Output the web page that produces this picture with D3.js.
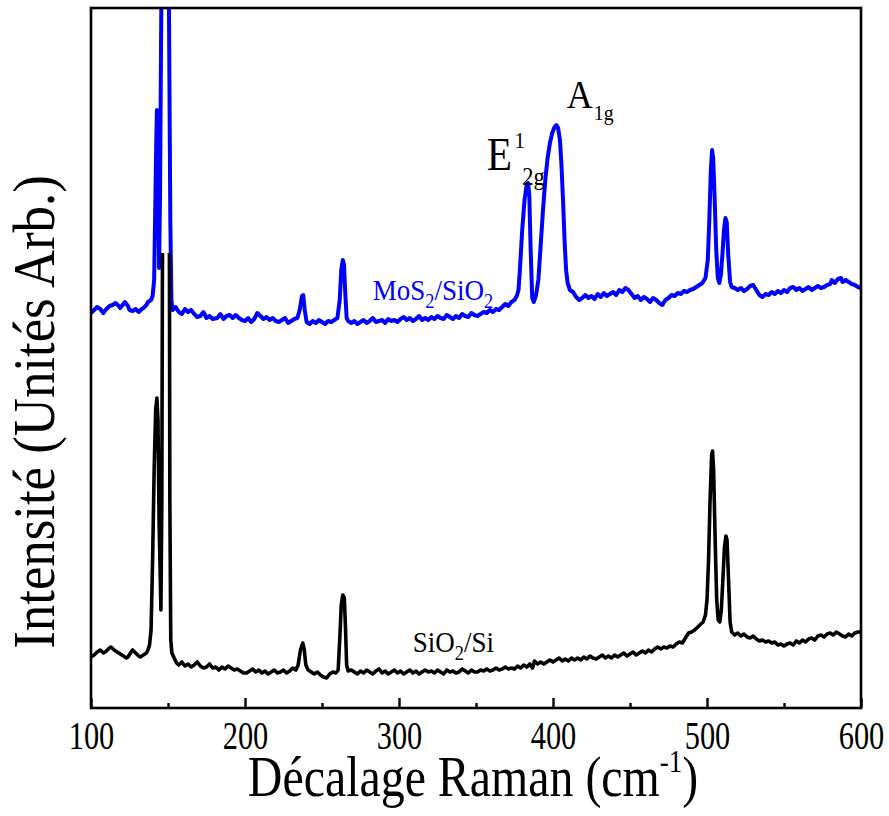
<!DOCTYPE html>
<html><head><meta charset="utf-8">
<script src="https://cdn.jsdelivr.net/npm/d3@7"></script>
<style>body{margin:0;background:#fff}text{font-family:"Liberation Serif","Times New Roman",serif}</style>
</head><body><svg id="c" width="889" height="816"></svg>
<script>
const xTickValues=[100,200,300,400,500,600];
const xMinorTicks=[150,250,350,450,550];
const xDomain=[100,600];
const yDomain=[0,700];
const blackClipTop=455;

const blueShift=[100,102,104,106,108,110,112,114,116,118,119,121,122,124,125,127,129,131,133,134,136,137,139,140,141,141.8,142.4,142.8,143.3,143.7,144.2,144.8,145.5,146.5,148.5,150.2,150.8,151.5,152.2,153,155,157,159,161,163,165,167,169,171,173,175,177,179,182,184,186,188,190,192,194,196,198,200,202,204,206,208,210,212,214,216,218,220,222,224,226,228,230,232,234,235.5,237,237.8,238.8,240,242,244,246,248,250,252,254,256,258,260,261.5,262.5,263.5,264.3,265,266,267,269,271,273,275,277,279,281,283,285,287,289,291,293,295,297,299,301,303,305,307,309,311,313,315,317,319,321,323,325,327,329,331,333,335,337,339,341,343,345,347,349,351,353,355,357,359,361,363,365,367,369,371,373,375,376.5,377.6,378.5,380,381.5,383,383.8,384.6,385.5,386.5,387.5,389,390.5,392,393.5,395,396.5,398,399.5,401,402.2,403.3,404.5,405.5,406.5,407.5,408.5,409.5,411,413,415,417,419,421,423,425,427,429,431,433,435,437,439,441,443,445,447,449,451,453,455,457,459,461,463,465,467,469,471,473,475,477,479,481,483,485,487,489,491,493,495,497,499,500.5,501.5,502.5,503.3,504,505,506,507,508,509,510,511,512,512.8,513.8,515,516,518,520,522,524,526,528,530,532,534,536,538,540,542,544,546,548,550,552,554,556,558,560,562,564,566,568,570,572,574,576,578,580,581,583,585,587,588,590,592,594,596,598,600];
const blueIntensity=[395,398,401,399,395,399,402,403,405,402,400,404,406,402,398,397,399,396,399,400,403,406,408,412,428,508,568,598,590,528,440,508,668,858,908,808,658,488,408,398,401,396,394,399,396,398,394,391,392,396,390,392,389,390,394,389,392,393,390,393,390,388,387,390,386,389,395,392,389,391,388,390,387,386,388,390,385,387,389,390,398,412,413,398,386,384,387,385,388,386,384,387,386,388,390,408,438,448,443,418,390,387,385,387,384,386,388,385,387,390,386,387,388,385,389,387,388,386,389,391,388,390,387,389,392,388,390,388,391,389,392,390,389,393,391,389,392,390,394,392,391,395,393,392,394,396,395,398,396,399,398,401,404,402,406,408,412,418,438,478,508,524,525,513,458,410,406,413,428,463,498,528,550,565,575,581,583,580,568,543,508,468,438,425,418,416,411,408,410,413,410,412,409,414,411,415,412,414,416,413,418,416,420,418,414,410,412,408,411,409,406,410,408,405,403,408,410,413,412,415,414,417,416,418,419,421,423,425,430,448,488,538,558,550,508,458,430,425,433,453,478,490,486,453,426,421,420,418,420,417,419,422,423,418,413,411,414,413,416,414,417,415,418,416,420,421,418,420,417,419,421,418,420,422,420,421,423,424,428,425,429,430,426,428,426,424,423,421,420];

const blackShift=[100,102,104,106,108,110,112,113,115,117,119,121,123,124,126,127,129,131,132,134,136,137,138,139,140,141,142,142.8,143.5,144.2,145.4,146,146.5,149,150.8,151.2,151.8,152.5,154,155.6,157,159,161,163,165,167,169,171,173,175,177,179,181,183,185,187,189,191,193,195,197,199,201,203,205,207,209,211,213,215,217,219,221,223,225,227,229,231,233,234.5,236,237.5,238.5,239.5,241,243,245,247,249,251,253,255,257,259,260.5,261.5,262.5,263.5,264.5,265.3,266,267,269,271,273,275,277,279,281,283,285,287,289,291,293,295,297,299,301,303,305,307,309,311,313,315,317,319,321,323,325,327,329,331,333,335,337,339,341,343,345,347,349,351,353,355,357,359,361,363,365,367,369,371,373,375,377,379,381,383,385,386.7,388,390,392,394,396,398,400,402,404,406,408,410,412,414,416,418,420,422,424,426,428,430,432,434,436,438,440,442,444,446,448,450,452,454,456,458,460,462,464,466,468,470,472,474,476,478,480,482,484,486,488,490,492,494,496,497.5,499,500,501,502,503,503.6,504.3,505.3,506.3,507.3,508.3,509.3,510.3,511.3,512.3,513,514,515,516,518,520,522,524,526,528,530,532,534,536,538,540,542,544,546,548,550,552,554,556,558,560,562,564,566,568,570,572,574,576,578,580,582,584,586,588,590,592,594,596,598,600];
const blackIntensity=[51,53,56,58,55,57,60,61,58,56,54,52,50,51,56,58,55,52,51,53,55,58,63,78,148,238,298,310,288,188,98,208,508,608,558,208,68,55,50,45,43,46,42,44,41,43,46,42,40,41,44,40,41,38,41,39,42,40,38,39,37,35,35,37,39,36,38,35,37,34,36,38,35,36,38,35,37,40,38,43,58,65,58,43,38,36,34,36,33,31,30,34,36,35,38,68,103,113,110,78,43,37,38,36,34,37,35,38,36,34,37,39,35,37,34,36,38,35,37,34,36,38,35,37,34,36,38,36,37,35,38,36,34,38,36,37,35,36,39,37,35,38,36,36,38,37,39,37,38,40,38,39,41,39,40,39,42,40,43,41,44,40,47,44,46,44,46,48,46,48,50,47,49,47,50,48,50,48,51,49,52,50,49,51,53,50,52,50,53,51,53,55,52,54,56,53,55,57,55,58,56,59,61,59,61,60,62,61,64,66,65,70,75,76,78,81,84,86,93,108,148,208,253,257,238,168,108,88,86,98,128,160,172,168,128,86,76,73,75,72,74,71,70,72,69,67,68,66,67,65,66,63,64,62,64,65,63,67,65,68,66,69,70,68,72,73,71,74,75,73,76,74,72,71,74,72,75,76,76];

const svg=d3.select("#c");
const m={l:91,r:861,t:8,b:708};
const x=d3.scaleLinear().domain(xDomain).range([m.l,m.r]);
const y=d3.scaleLinear().domain(yDomain).range([m.b,m.t]);

const defs=svg.append("defs");
defs.append("clipPath").attr("id","clipBlue").append("rect")
  .attr("x",m.l).attr("y",m.t).attr("width",m.r-m.l).attr("height",m.b-m.t);
defs.append("clipPath").attr("id","clipBlack").append("rect")
  .attr("x",m.l).attr("y",y(blackClipTop)).attr("width",m.r-m.l).attr("height",m.b-y(blackClipTop));

const line=d3.line().x(d=>x(d[0])).y(d=>y(d[1]));
const blue=blueShift.map((v,i)=>[v,blueIntensity[i]]);
const black=blackShift.map((v,i)=>[v,blackIntensity[i]]);

svg.append("path").datum(blue).attr("d",line).attr("fill","none")
  .attr("stroke","#0000ff").attr("stroke-width",4).attr("stroke-linejoin","round")
  .attr("clip-path","url(#clipBlue)");
svg.append("path").datum(black).attr("d",line).attr("fill","none")
  .attr("stroke","#000").attr("stroke-width",3.6).attr("stroke-linejoin","round")
  .attr("clip-path","url(#clipBlack)");

// frame
svg.append("rect").attr("x",m.l).attr("y",m.t).attr("width",m.r-m.l).attr("height",m.b-m.t)
  .attr("fill","none").attr("stroke","#000").attr("stroke-width",2.6);

// axes ticks
const gx=svg.append("g").attr("transform",`translate(0,${m.b})`)
  .call(d3.axisBottom(x).tickValues(xTickValues).tickSizeInner(-10).tickSizeOuter(0).tickPadding(13));
gx.select(".domain").remove();
gx.selectAll(".tick line").attr("stroke","#000").attr("stroke-width",2.4);
gx.selectAll(".tick text").attr("fill","#000").style("font-size","39px")
  .attr("transform","scale(0.78,1)");
const gm=svg.append("g").attr("transform",`translate(0,${m.b})`)
  .call(d3.axisBottom(x).tickValues(xMinorTicks).tickSizeInner(-5).tickSizeOuter(0).tickFormat(""));
gm.select(".domain").remove();
gm.selectAll(".tick line").attr("stroke","#000").attr("stroke-width",2.4);

// axis titles
const xt=svg.append("text").attr("text-anchor","middle")
  .attr("transform","translate(473,796) scale(0.84,1)").style("font-size","57px").attr("fill","#000");
xt.append("tspan").text("Décalage Raman (cm");
xt.append("tspan").text("-1").style("font-size","32px").attr("dy",-24);
xt.append("tspan").text(")").attr("dy",24);

svg.append("text").attr("text-anchor","middle")
  .attr("transform","translate(54,412) rotate(-90) scale(0.88,1)")
  .style("font-size","60px").attr("fill","#000").text("Intensité (Unités Arb.)");

// annotations
function subLabel(px,py,parts,color,size,sx){
  const t=svg.append("text").attr("transform",`translate(${px},${py}) scale(${sx},1)`)
    .style("font-size",size+"px").attr("fill",color);
  parts.forEach(p=>{
    const s=t.append("tspan").text(p.t);
    if(p.sub){s.style("font-size",(size*0.68)+"px").attr("dy",p.dy);}
    else if(p.dy){s.attr("dy",p.dy);}
  });
}
subLabel(x(283),y(408),[{t:"MoS"},{t:"2",sub:true,dy:8},{t:"/SiO",dy:-8},{t:"2",sub:true,dy:8}],"#0000ff",30,0.9);
subLabel(x(309),y(56),[{t:"SiO"},{t:"2",sub:true,dy:8},{t:"/Si",dy:-8}],"#000",30,0.9);

svg.append("text").attr("transform",`translate(${x(357)},${y(538)}) scale(0.9,1)`)
  .style("font-size","46px").attr("fill","#000").text("E");
svg.append("text").attr("transform",`translate(${x(375)},${y(560)}) scale(0.9,1)`)
  .style("font-size","23px").attr("fill","#000").text("1");
svg.append("text").attr("transform",`translate(${x(380)},${y(523)}) scale(0.9,1)`)
  .style("font-size","25px").attr("fill","#000").text("2g");
svg.append("text").attr("transform",`translate(${x(409)},${y(600)}) scale(0.9,1)`)
  .style("font-size","40px").attr("fill","#000").text("A");
svg.append("text").attr("transform",`translate(${x(426.5)},${y(588)}) scale(0.9,1)`)
  .style("font-size","22px").attr("fill","#000").text("1g");
</script></body></html>
